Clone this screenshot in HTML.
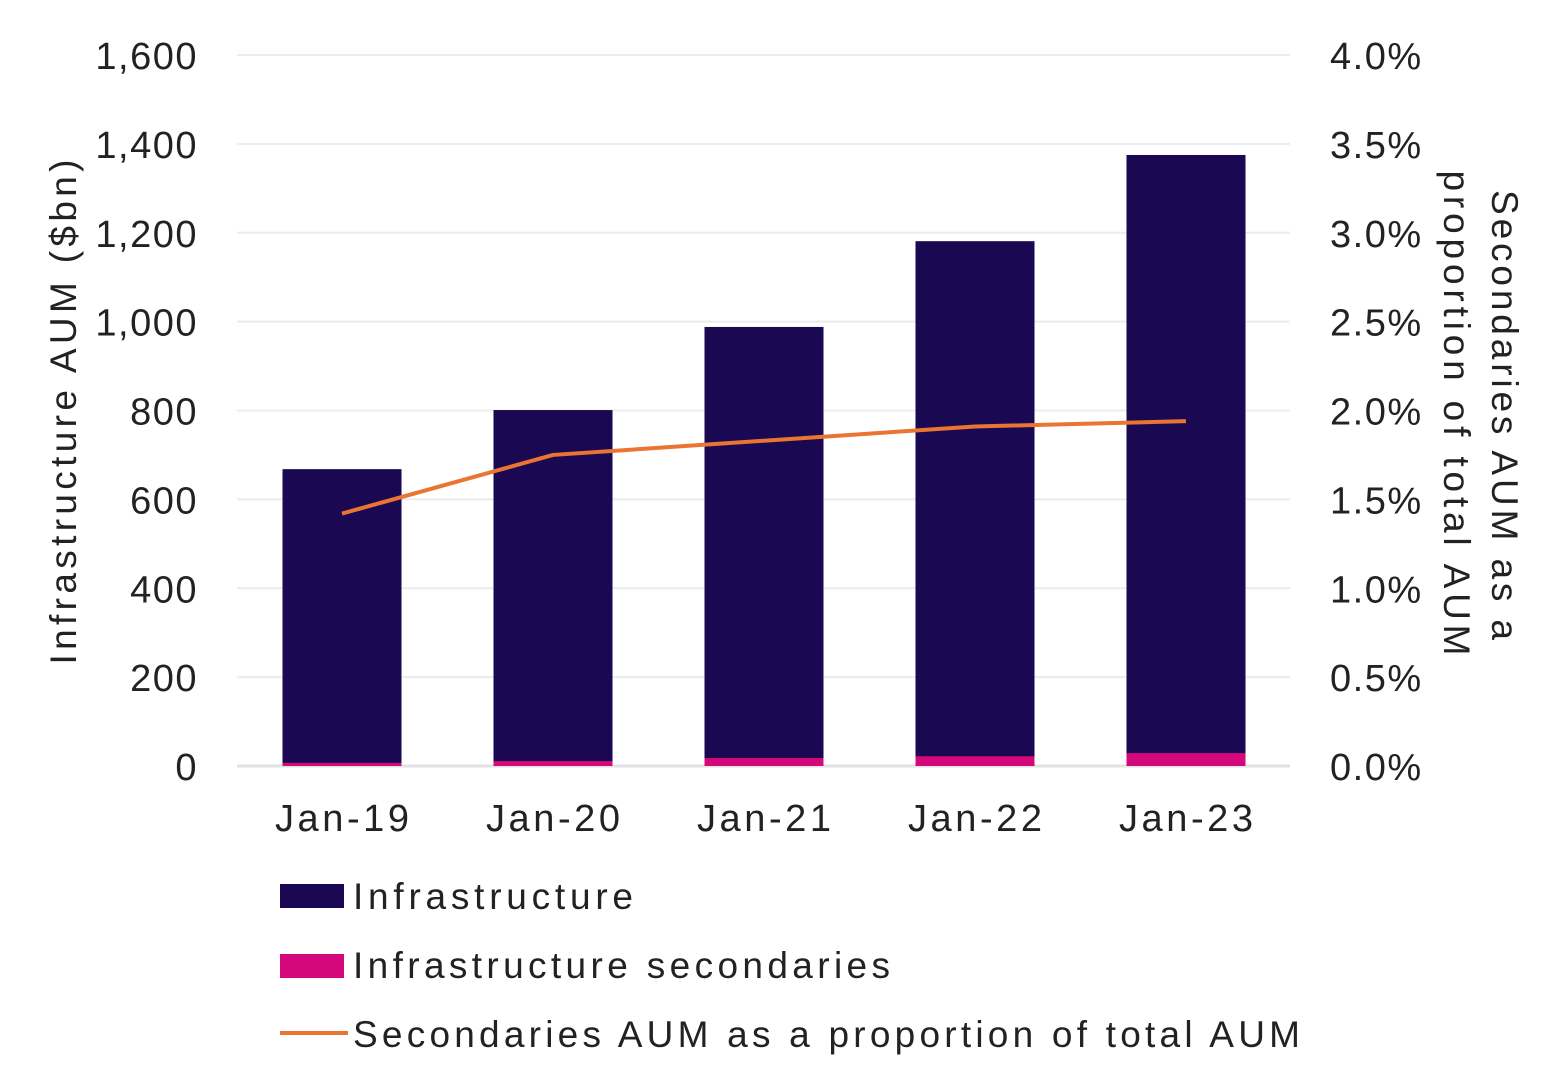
<!DOCTYPE html>
<html><head><meta charset="utf-8"><style>
html,body{margin:0;padding:0;background:#fff;width:1546px;height:1082px;overflow:hidden}
svg text{font-family:"Liberation Sans",sans-serif;fill:#222}
</style></head><body>
<svg id="chart" width="1546" height="1082" xmlns="http://www.w3.org/2000/svg">
<g id="grid"></g>
<g id="bars"></g>
<g id="line"></g>
<g id="ticks"></g>
<text transform="translate(76,412) rotate(-90)" text-anchor="middle" font-size="37" textLength="505" lengthAdjust="spacing">Infrastructure AUM ($bn)</text>
<text transform="translate(1492,415) rotate(90)" text-anchor="middle" font-size="37" textLength="450" lengthAdjust="spacing">Secondaries AUM as a</text>
<text transform="translate(1444,413) rotate(90)" text-anchor="middle" font-size="37" textLength="485" lengthAdjust="spacing">proportion of total AUM</text>
<g>
<rect x="280" y="884" width="64" height="24" fill="#1a0852"/>
<text x="353" y="909" font-size="37" textLength="280" lengthAdjust="spacing">Infrastructure</text>
<rect x="280" y="954" width="64" height="24" fill="#d4087a"/>
<text x="353" y="978" font-size="37" textLength="537" lengthAdjust="spacing">Infrastructure secondaries</text>
<line x1="280" y1="1033" x2="348" y2="1033" stroke="#ea7431" stroke-width="4"/>
<text x="353" y="1047" font-size="37" textLength="947" lengthAdjust="spacing">Secondaries AUM as a proportion of total AUM</text>
</g>
</svg>
<script>
const categories=["Jan-19","Jan-20","Jan-21","Jan-22","Jan-23"];
const infrastructure=[668,801,988,1181,1375];
const secondaries=[7,11,18,22,29];
const proportion=[1.42,1.75,1.83,1.91,1.94];
const leftTicks=[0,200,400,600,800,1000,1200,1400,1600];
const rightTicks=["0.0%","0.5%","1.0%","1.5%","2.0%","2.5%","3.0%","3.5%","4.0%"];
const NS="http://www.w3.org/2000/svg";
const y0=766,yTop=55,xL=237,xR=1290;
const yL=v=>y0-(v/1600)*(y0-yTop);
const yR=p=>y0-(p/4)*(y0-yTop);
const xC=i=>342+i*211;
const bw=119;
function mk(tag,attrs,parent){const e=document.createElementNS(NS,tag);for(const k in attrs)e.setAttribute(k,attrs[k]);document.getElementById(parent).appendChild(e);return e;}
leftTicks.forEach((t,i)=>{
  const g=mk('line',{x1:xL,x2:xR,y1:yL(t),y2:yL(t),stroke:i==0?'#e2e2e2':'#ececec','stroke-width':i==0?3:2},'grid');
  
  
  const l=mk('text',{x:198,y:yL(t)+14,'text-anchor':'end','font-size':38,'letter-spacing':1.5},'ticks');
  l.textContent=t.toLocaleString('en-US');
  
  
  const r=mk('text',{x:1330,y:yL(t)+14,'font-size':38,'letter-spacing':1.5},'ticks');
  r.textContent=rightTicks[i];
  
  
});
categories.forEach((c,i)=>{
  const b=mk('rect',{x:xC(i)-bw/2,y:yL(infrastructure[i]),width:bw,height:yL(0)-yL(infrastructure[i]),fill:'#1a0852'},'bars');
  
  
  const s=mk('rect',{x:xC(i)-bw/2,y:yL(secondaries[i]),width:bw,height:yL(0)-yL(secondaries[i]),fill:'#d4087a'},'bars');
  
  
  const t=mk('text',{x:xC(i),y:831,'text-anchor':'middle','font-size':38,textLength:134,lengthAdjust:'spacing'},'ticks');
  t.textContent=c;
  
  
});
const pts=proportion.map((p,i)=>xC(i)+','+yR(p)).join(' ');
const pl=mk('polyline',{points:pts,fill:'none',stroke:'#ea7431','stroke-width':4,'stroke-linejoin':'round'},'line');


</script>
</body></html>
